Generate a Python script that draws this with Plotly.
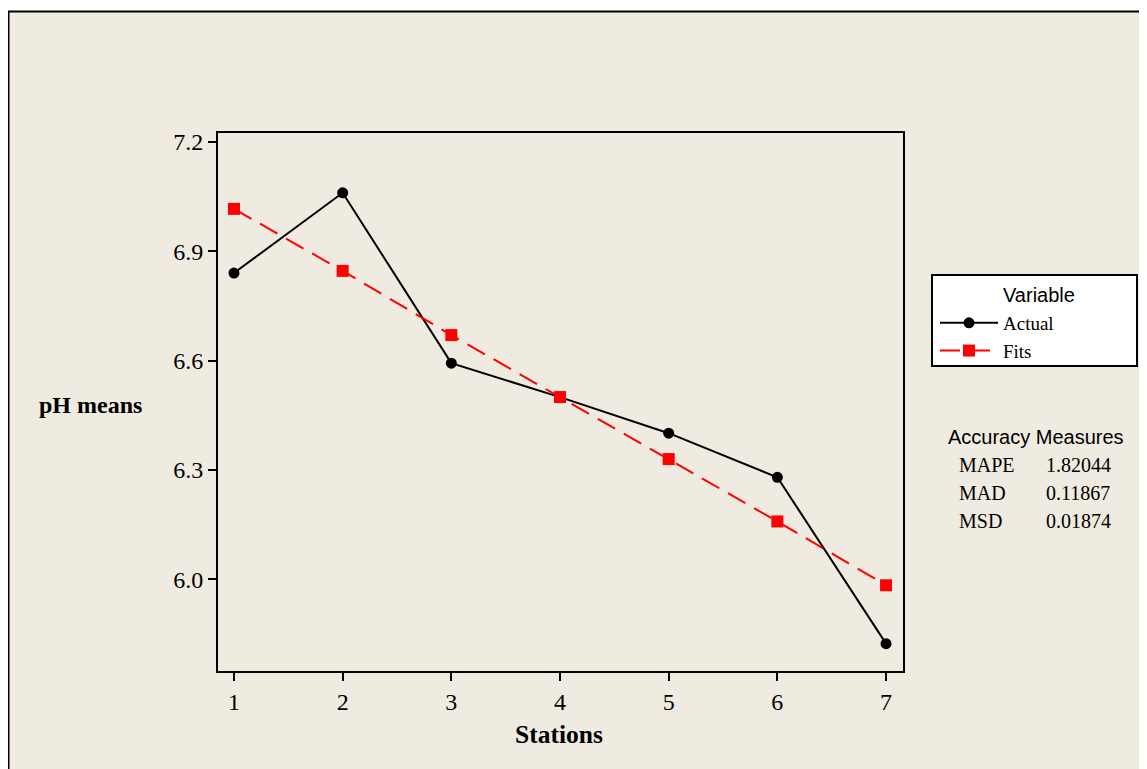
import plotly.graph_objects as go

stations = [1, 2, 3, 4, 5, 6, 7]
actual = [6.840, 7.060, 6.593, 6.500, 6.401, 6.280, 5.824]
fits = [7.016, 6.846, 6.670, 6.500, 6.330, 6.159, 5.984]
y_ticks = [6.0, 6.3, 6.6, 6.9, 7.2]
y_ticklabels = ["6.0", "6.3", "6.6", "6.9", "7.2"]
measure_names = ["MAPE", "MAD", "MSD"]
measure_values = ["1.82044", "0.11867", "0.01874"]

# page is offset by 8px body margin; work in page pixels
OFF = 8
PAGE_W, PAGE_H = 1147, 769
W, H = PAGE_W - OFF, PAGE_H - OFF
L, R, T, B = 218, 903, 133, 671
SERIF = "Liberation Serif, Times New Roman, serif"
SANS = "Liberation Sans, Arial, sans-serif"
BG = "#EFEBE1"

def px(x):
    return (x - L) / (R - L)

def py(y):
    return (B - y) / (B - T)

fig = go.Figure()
fig.add_trace(go.Scatter(
    x=stations, y=actual, name="Actual", mode="lines+markers",
    line=dict(color="black", width=2),
    marker=dict(symbol="circle", size=11, color="black"),
))
fig.add_trace(go.Scatter(
    x=stations, y=fits, name="Fits", mode="lines+markers",
    line=dict(color="#FF0000", width=2, dash="20px,10px"),
    marker=dict(symbol="square", size=12, color="#FF0000"),
))

axis_common = dict(
    showgrid=False, zeroline=False, showline=True, linecolor="black",
    linewidth=2, mirror=True, ticks="outside", ticklen=8, tickwidth=2,
    tickcolor="black", tickfont=dict(family=SERIF, size=24, color="black"),
)

fig.update_layout(
    width=W, height=H,
    margin=dict(l=L - OFF, r=PAGE_W - R, t=T - OFF, b=PAGE_H - B),
    paper_bgcolor="white", plot_bgcolor="white",
    xaxis=dict(range=[0.853, 7.156], tickvals=stations,
               ticktext=[str(s) for s in stations], **axis_common),
    yaxis=dict(range=[5.749, 7.224], tickvals=y_ticks,
               ticktext=y_ticklabels, **axis_common),
    showlegend=True,
    legend=dict(
        x=px(935), y=py(304), xanchor="left", yanchor="top",
        bgcolor="rgba(0,0,0,0)", borderwidth=0,
        font=dict(family=SERIF, size=19, color="black"),
        itemwidth=58, tracegroupgap=0,
    ),
)

# beige frame with black left/top edges
fig.add_shape(type="rect", xref="paper", yref="paper",
              x0=px(8.5), x1=px(PAGE_W + 20), y0=py(PAGE_H + 20), y1=py(11.5),
              line=dict(color="black", width=2), fillcolor=BG, layer="below")
# legend box
fig.add_shape(type="rect", xref="paper", yref="paper",
              x0=px(932), x1=px(1137), y0=py(366), y1=py(275),
              line=dict(color="black", width=2), fillcolor="white", layer="below")

def note(text, x, y, family, size, xanchor="center"):
    fig.add_annotation(text=text, xref="paper", yref="paper", x=px(x), y=py(y),
                       xanchor=xanchor, yanchor="middle", showarrow=False,
                       font=dict(family=family, size=size, color="black"))

note("Variable", 1039, 295, SANS, 20)
note("<b>Stations</b>", 559, 734, SERIF, 25.5)
note("<b>pH means</b>", 90, 405, SERIF, 24)
note("Accuracy Measures", 1035.5, 437, SANS, 20)
for i, (n, v) in enumerate(zip(measure_names, measure_values)):
    note(n, 957, 465 + 28 * i, SERIF, 20, "left")
    note(v, 1044, 465 + 28 * i, SERIF, 20, "left")

fig.write_html("out.html")
